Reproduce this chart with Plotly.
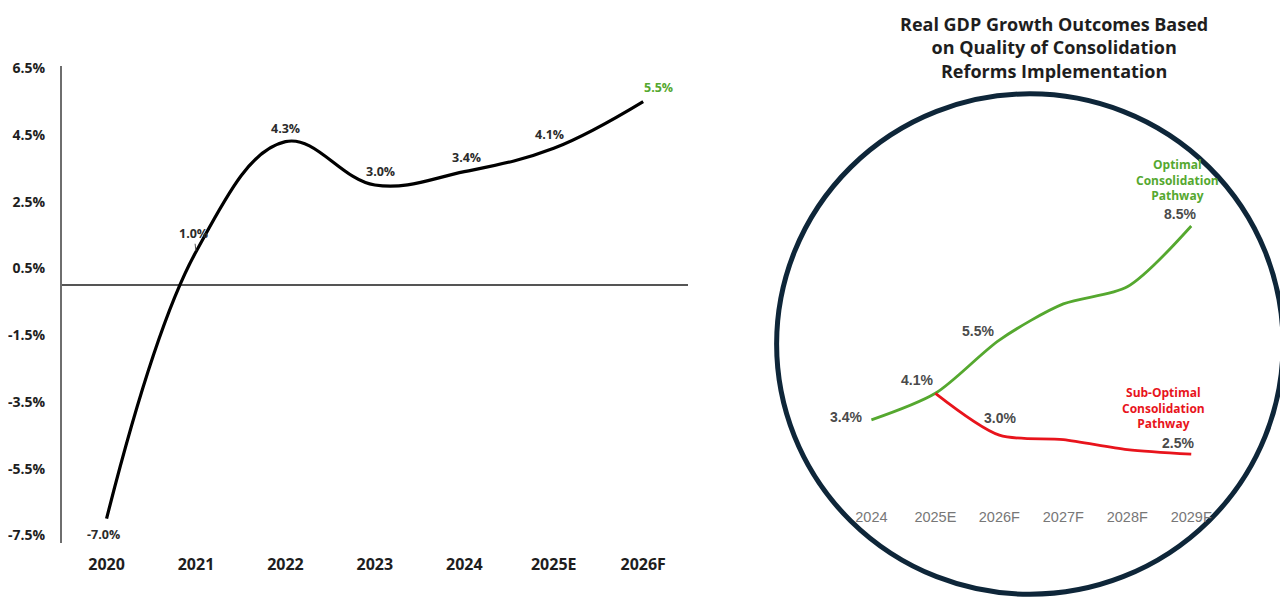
import plotly.graph_objects as go

# ---------------- data ----------------
years_hist = ["2020", "2021", "2022", "2023", "2024", "2025E", "2026F"]
gdp_hist = [-7.0, 1.0, 4.3, 3.0, 3.4, 4.1, 5.5]

y_tick_vals = [6.5, 4.5, 2.5, 0.5, -1.5, -3.5, -5.5, -7.5]
y_tick_text = ["6.5%", "4.5%", "2.5%", "0.5%", "-1.5%", "-3.5%", "-5.5%", "-7.5%"]

years_scen = ["2024", "2025E", "2026F", "2027F", "2028F", "2029F"]
optimal = [3.4, 4.1, 5.5, 6.45, 6.9, 8.5]
sub_years = ["2025E", "2026F", "2027F", "2028F", "2029F"]
sub_optimal = [4.1, 3.0, 2.88, 2.62, 2.5]

W, H = 1288, 604
OX, OY = 8, 13  # page offset of the figure inside the html body


def px(x):
    return (x - OX) / W


def py(y):
    return 1 - (y - OY) / H


GREEN = "#55a82f"
RED = "#e8141c"
NAVY = "#0e2639"
DARK = "#2b2b2b"

fig = go.Figure()

# left chart line
fig.add_trace(go.Scatter(
    x=years_hist, y=gdp_hist, mode="lines",
    line=dict(color="#000000", width=3.2, shape="spline", smoothing=1.1),
    xaxis="x", yaxis="y", hoverinfo="skip", showlegend=False,
))

# right chart lines
fig.add_trace(go.Scatter(
    x=years_scen, y=optimal, mode="lines",
    line=dict(color=GREEN, width=2.8, shape="spline", smoothing=0.8),
    xaxis="x2", yaxis="y2", showlegend=False,
))
fig.add_trace(go.Scatter(
    x=sub_years, y=sub_optimal, mode="lines",
    line=dict(color=RED, width=2.8, shape="spline", smoothing=0.8),
    xaxis="x2", yaxis="y2", showlegend=False,
))

ann = []
lab_font = dict(family="Open Sans", size=12.5, color=DARK, weight="bold")
# left labels: index -> (xshift, yshift)
left_offsets = {0: (-3, -16), 2: (0, 13), 3: (6, 14), 4: (2, 14), 5: (-4, 14), 6: (15, 14)}
for i, (xs, ys) in left_offsets.items():
    f = dict(lab_font)
    if i == 6:
        f["color"] = GREEN
    ann.append(dict(x=i, y=gdp_hist[i], xref="x", yref="y",
                    text=f"{gdp_hist[i]:.1f}%", showarrow=False,
                    xshift=xs, yshift=ys, font=f))
ann.append(dict(x=1, y=gdp_hist[1], xref="x", yref="y",
                text=f"{gdp_hist[1]:.1f}%", showarrow=True, arrowhead=0,
                arrowwidth=1, arrowcolor="#555", ax=-2, ay=-18, standoff=1,
                font=lab_font))

# right labels
r_font = dict(family="Liberation Sans", size=14, color="#4a4a4a", weight="bold")
sub_off = years_scen.index(sub_years[0])
right_labels = [
    (0, optimal[0], -25, 3),
    (1, optimal[1], -18, 13),
    (2, optimal[2], -21, 9),
    (5, optimal[5], -11, 12),
    (sub_off + 1, sub_optimal[1], 1, 17),
    (sub_off + 4, sub_optimal[4], -13, 11),
]
for xv, yv, xs, ys in right_labels:
    ann.append(dict(x=xv, y=yv, xref="x2", yref="y2", text=f"{yv:.1f}%",
                    showarrow=False, xshift=xs, yshift=ys, font=r_font))

ann.append(dict(x=5, y=optimal[5], xref="x2", yref="y2",
                text="Optimal<br>Consolidation<br>Pathway", showarrow=False,
                xshift=-14, yshift=46,
                font=dict(family="Open Sans", size=12, color=GREEN, weight="bold")))
ann.append(dict(x=sub_off + 4, y=sub_optimal[4], xref="x2", yref="y2",
                text="Sub-Optimal<br>Consolidation<br>Pathway", showarrow=False,
                xshift=-28, yshift=46,
                font=dict(family="Open Sans", size=12, color=RED, weight="bold")))

# title of right chart
ann.append(dict(x=px(1053), y=py(45), xref="paper", yref="paper",
                text="Real GDP Growth Outcomes Based<br>on Quality of Consolidation<br>Reforms Implementation",
                showarrow=False, xanchor="center", yanchor="middle",
                font=dict(family="Open Sans", size=18, color="#1e1e1e", weight="bold")))

fig.update_layout(
    width=W, height=H,
    margin=dict(l=0, r=0, t=0, b=0),
    paper_bgcolor="white", plot_bgcolor="rgba(0,0,0,0)",
    showlegend=False,
    xaxis=dict(domain=[px(58), px(686)], range=[-0.5, 6.5], type="category",
               categoryorder="array", categoryarray=years_hist,
               showgrid=False, showline=False, zeroline=False,
               ticks="outside", ticklen=7, tickcolor="rgba(0,0,0,0)",
               tickfont=dict(family="Open Sans", size=16, color="#1e1e1e", weight="bold"),
               fixedrange=True),
    yaxis=dict(domain=[py(548), py(64)], range=[-7.73, 6.56],
               tickvals=y_tick_vals, ticktext=y_tick_text,
               showgrid=False, showline=True, linecolor="#6e6e6e", linewidth=2,
               zeroline=True, zerolinecolor="#555555", zerolinewidth=1.5,
               ticks="outside", ticklen=12, tickcolor="rgba(0,0,0,0)",
               tickfont=dict(family="Open Sans", size=14, color="#1e1e1e", weight="bold"),
               fixedrange=True),
    xaxis2=dict(domain=[px(838), px(1223)], range=[-0.5, 5.5], type="category",
                categoryorder="array", categoryarray=years_scen,
                anchor="y2", showgrid=False, showline=False, zeroline=False,
                ticks="outside", ticklen=3, tickcolor="rgba(0,0,0,0)",
                tickfont=dict(family="Liberation Sans", size=14.5, color="#777777"),
                fixedrange=True),
    yaxis2=dict(domain=[py(505), py(180)], range=[1.276, 9.695], anchor="x2",
                visible=False, fixedrange=True),
    annotations=ann,
    shapes=[dict(type="circle", xref="paper", yref="paper",
                 x0=px(775), x1=px(1283), y0=py(600), y1=py(92),
                 line=dict(color=NAVY, width=5), layer="below")],
)

fig.write_html("out.html")
